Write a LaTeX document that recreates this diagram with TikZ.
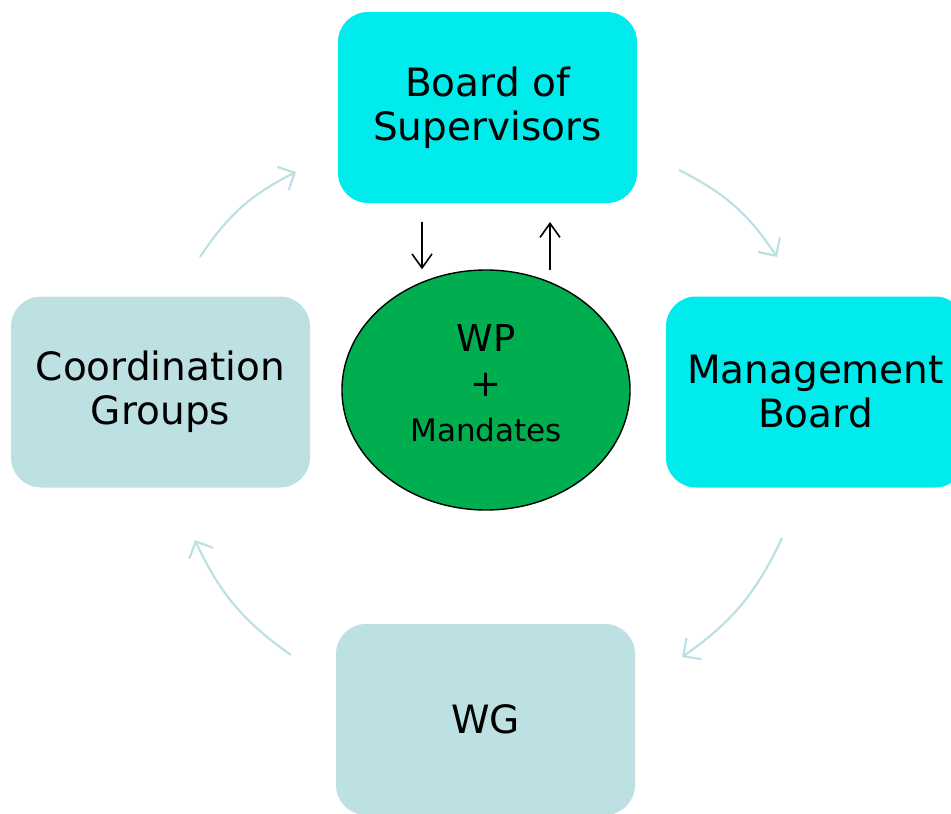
\documentclass[tikz,border=0pt]{standalone}
\usepackage{fontspec}
\setmainfont{DejaVu Sans}
\usetikzlibrary{arrows.meta,shapes.geometric}
\definecolor{boxcyan}{RGB}{0,235,235}
\definecolor{boxpale}{RGB}{189,224,227}
\definecolor{wpgreen}{RGB}{0,174,80}
\tikzset{
  roundbox/.style={rectangle, rounded corners=30pt, minimum width=299pt, minimum height=191pt, align=center, inner sep=0pt, font=\fontsize{39}{44}\selectfont},
  cyclearrow/.style={draw=boxpale, line width=2.2pt, -{Straight Barb[length=13pt,width=26pt,line width=2.2pt]}, bend left=15},
  linkarrow/.style={draw=black, line width=1.6pt, -{Straight Barb[length=14pt,width=20pt,line width=1.6pt]}}
}
\begin{document}
\begin{tikzpicture}[x=1pt,y=-1pt]
\useasboundingbox (0,0) rectangle (951,814);

\node[roundbox, fill=boxcyan] (bos) at (487.5,107.5) {Board of\\Supervisors};
\node[roundbox, fill=boxcyan] (mb) at (815.5,392) {Management\\Board};
\node[roundbox, fill=boxpale] (wg) at (485.5,719.5) {WG};
\node[roundbox, fill=boxpale] (cg) at (160.5,392) {Coordination\\Groups};

\node[ellipse, draw=black, line width=1.4pt, fill=wpgreen, minimum width=288pt, minimum height=240pt, inner sep=0pt] (wp) at (486,390) {};
\node[align=center, font=\fontsize{37}{45}\selectfont] (wptext) at (486,383)
  {WP\\+\\\fontsize{31}{45}\selectfont Mandates};

%\draw[red] (0,0) grid[step=50] (951,814);

\coordinate (c1s) at (200,257); \coordinate (c1e) at (296,172);
\coordinate (c2s) at (679,170); \coordinate (c2e) at (777,257);
\coordinate (c3s) at (782,538); \coordinate (c3e) at (682,657);
\coordinate (c4s) at (291,655); \coordinate (c4e) at (195,540);
\draw[cyclearrow] (c1s) to (c1e);
\draw[cyclearrow] (c2s) to (c2e);
\draw[cyclearrow] (c3s) to (c3e);
\draw[cyclearrow] (c4s) to (c4e);

\coordinate (dn) at (422,222); \coordinate (up) at (550,270);
\draw[linkarrow] (dn) -- (dn |- wp.north);
\draw[linkarrow] (up) -- (up |- 0,222);
\end{tikzpicture}
\end{document}
